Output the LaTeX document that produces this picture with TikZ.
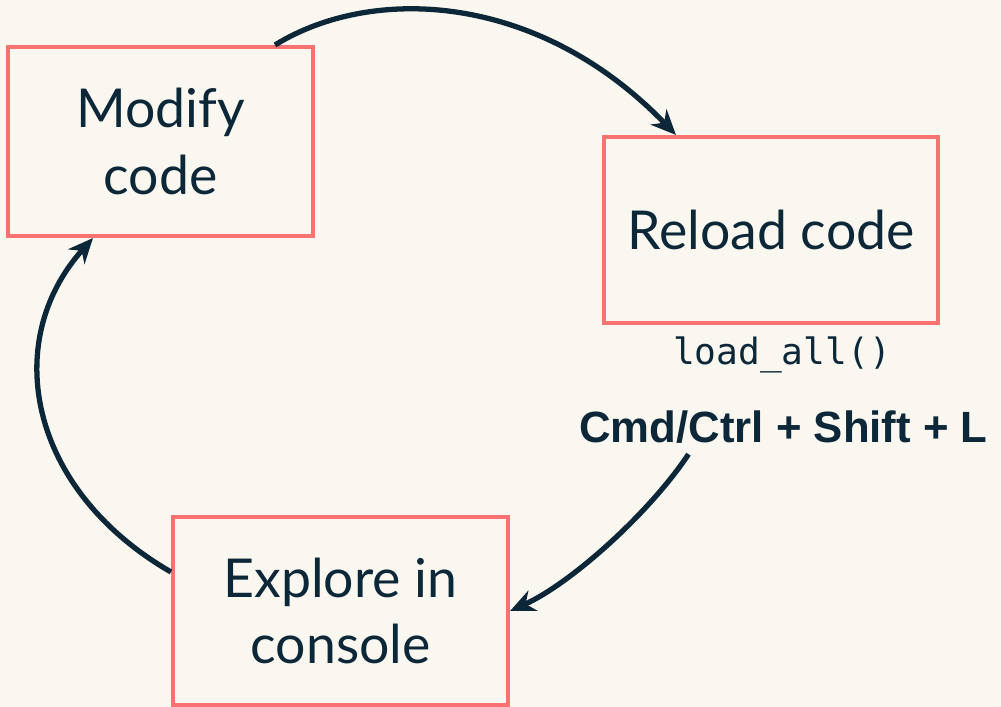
\documentclass[tikz,border=0pt]{standalone}
\usepackage{fontspec}
\setmainfont{Lato}
\newfontfamily\codefont{DejaVu Sans Mono}
\newfontfamily\keyfont{Liberation Sans}
\usepackage{xcolor}
\usetikzlibrary{arrows.meta,
positioning,
calc}

\definecolor{paper}{HTML}{FAF7F0}
\definecolor{salmon}{HTML}{F87272}
\definecolor{ink}{HTML}{0C2738}

\begin{document}
\begin{tikzpicture}[
    >={Stealth[length=5mm,width=4.4mm,inset=1.6mm]},
    step box/.style={
        draw=salmon,
        line width=2.3pt,
        align=center,
        text=ink,
        font=\fontsize{30.5}{38}\selectfont
    },
    loop/.style={
        ->,
        draw=ink,
        line width=3pt
    },
    codelabel/.style={
        text=ink,
        anchor=base,
        inner sep=0pt,
        font=\codefont\fontsize{20.6}{24}\selectfont
    },
    keylabel/.style={
        text=ink,
        anchor=base,
        inner sep=0pt,
        font=\keyfont\bfseries\fontsize{24.9}{28}\selectfont
    }
]

% page
\fill[paper] (0,0) rectangle (20.02,14.14);
\useasboundingbox (0,0) rectangle (20.02,14.14);

%-------------------------------------------------
% Steps of the cycle
%-------------------------------------------------

\node[step box,minimum width=6.1cm,minimum height=3.78cm] (modify) at (3.21,11.31) {Modify\\code};
\node[step box,minimum width=6.68cm,minimum height=3.72cm] (reload) at (15.42,9.54) {Reload code};
\node[step box,minimum width=6.7cm,minimum height=3.76cm] (explore) at (6.81,1.92) {Explore in\\console};

%-------------------------------------------------
% How to reload
%-------------------------------------------------

\node[codelabel] (loadall) at (15.64,6.84) {load\char`\_all()};
\node[keylabel] (keys) at (15.67,5.28) {Cmd/Ctrl + Shift + L};

%-------------------------------------------------
% Arrows
%-------------------------------------------------

\draw[loop] ([xshift=-0.8cm]modify.north east)
    .. controls +(1.94,1.2) and +(-2.76,2.86) .. ([xshift=1.48cm]reload.north west);
\draw[loop] ([xshift=-1.9cm,yshift=-0.2cm]keys.south)
    .. controls +(-0.8,-1.2) and +(1.2,0.54) .. (explore.east);
\draw[loop] ([yshift=0.78cm]explore.west)
    .. controls +(-2.84,1.64) and +(-1.86,-2.08) .. ([xshift=-1.35cm]modify.south);

\end{tikzpicture}
\end{document}
